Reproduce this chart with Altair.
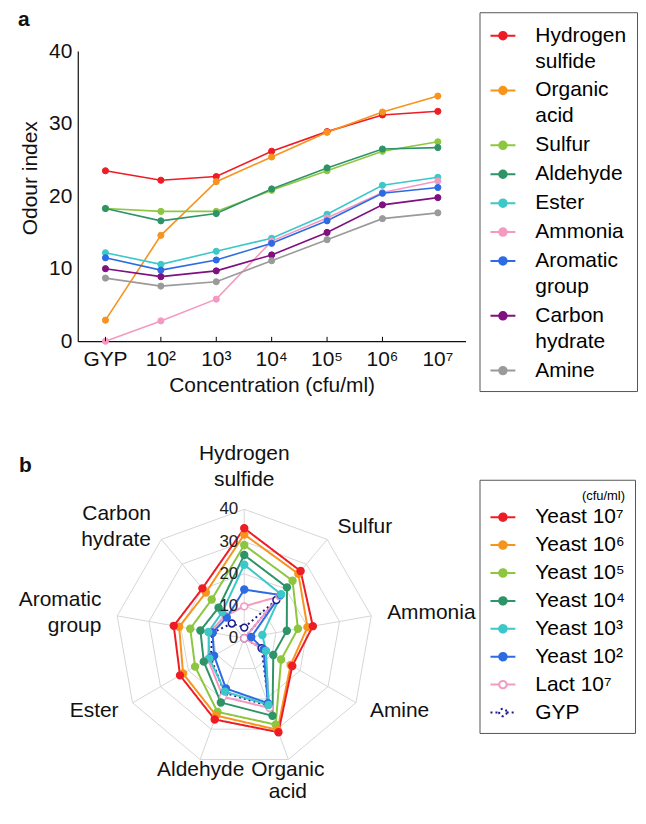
import altair as alt
import pandas as pd

FONT = "Liberation Sans"

# ---------------- Panel a data ----------------
concs = ["GYP", "10²", "10³", "10⁴", "10⁵", "10⁶", "10⁷"]
odours = ["Hydrogen sulfide", "Organic acid", "Sulfur", "Aldehyde", "Ester",
          "Ammonia", "Aromatic group", "Carbon hydrate", "Amine"]
odour_colors = ["#ee1c25", "#f7941d", "#8dc63f", "#2e9468", "#3cc8c8",
                "#f49ac2", "#2d6be4", "#800f80", "#9a9a9a"]
hydrogen_sulfide = [23.5, 22.2, 22.7, 26.2, 28.9, 31.2, 31.7]
organic_acid = [2.9, 14.6, 22.0, 25.4, 28.8, 31.6, 33.8]
sulfur = [18.3, 17.9, 17.9, 20.8, 23.5, 26.2, 27.5]
aldehyde = [18.3, 16.6, 17.6, 21.0, 23.9, 26.5, 26.7]
ester = [12.2, 10.6, 12.4, 14.2, 17.5, 21.5, 22.6]
ammonia = [0.0, 2.8, 5.8, 13.8, 17.0, 20.5, 22.1]
aromatic_group = [11.5, 9.8, 11.2, 13.5, 16.6, 20.4, 21.2]
carbon_hydrate = [10.0, 8.9, 9.7, 11.9, 15.0, 18.8, 19.8]
amine = [8.7, 7.6, 8.2, 11.1, 14.0, 16.9, 17.7]
series_a = [hydrogen_sulfide, organic_acid, sulfur, aldehyde, ester,
            ammonia, aromatic_group, carbon_hydrate, amine]

# ---------------- Panel b data ----------------
radar_cats = ["Hydrogen sulfide", "Sulfur", "Ammonia", "Amine", "Organic acid",
              "Aldehyde", "Ester", "Aromatic group", "Carbon hydrate"]
radar_series = ["Yeast 10⁷", "Yeast 10⁶", "Yeast 10⁵", "Yeast 10⁴",
                "Yeast 10³", "Yeast 10²", "Lact 10⁷", "GYP"]
radar_colors = ["#ee1c25", "#f7941d", "#8dc63f", "#2e9468", "#3cc8c8",
                "#2d6be4", "#f49ac2", "#1b1b8f"]
radar_fills = ["#ee1c25", "#f7941d", "#8dc63f", "#2e9468", "#3cc8c8",
               "#2d6be4", "#ffffff", "#ffffff"]
yeast_1e7 = [34.1, 27.2, 21.6, 17.2, 31.0, 26.8, 23.0, 22.2, 20.2]
yeast_1e6 = [32.2, 26.1, 19.9, 16.6, 30.2, 25.5, 21.9, 20.5, 18.5]
yeast_1e5 = [28.9, 23.3, 16.9, 13.2, 28.5, 24.3, 17.6, 17.0, 15.7]
yeast_1e4 = [25.8, 20.6, 13.4, 10.4, 25.6, 21.2, 14.5, 13.8, 12.4]
yeast_1e3 = [22.8, 17.8, 5.7, 7.8, 22.0, 17.6, 12.5, 11.3, 10.6]
yeast_1e2 = [15.1, 17.5, 2.2, 6.9, 21.4, 16.6, 10.8, 10.0, 8.4]
lact_1e7 = [9.9, 17.0, 0.0, 7.4, 23.0, 19.3, 13.0, 11.0, 9.0]
gyp = [3.3, 15.5, 0.0, 6.2, 22.3, 18.0, 12.0, 10.0, 6.0]
radar_values = [yeast_1e7, yeast_1e6, yeast_1e5, yeast_1e4, yeast_1e3,
                yeast_1e2, lact_1e7, gyp]
radar_rings = [10, 20, 30, 40]
radar_ticks = [0, 10, 20, 30, 40]
panel_letters = ["a", "b"]

# ---------------- layout constants ----------------
A_W, A_H = 389, 291
B_W, B_H = 300, 355
PPU = 3.235              # radar pixels per unit
B_CX, B_CY = 167, 196    # radar centre inside panel b plot area
LH = 26                  # line height of multi-line labels
SYM = "M-1,0H-0.3M0.3,0H1M0.3,0A0.3,0.3,0,1,1,-0.3,0A0.3,0.3,0,1,1,0.3,0Z"

# ---------------- Panel a ----------------
df_a = pd.DataFrame([
    {"odour": o, "conc": c, "value": v}
    for o, vals in zip(odours, series_a)
    for c, v in zip(concs, vals)
])

xsc = alt.Scale(type="band", domain=concs, paddingInner=0, paddingOuter=0)
x_axis = alt.Axis(title="Concentration (cfu/ml)", labelAngle=0, labelAlign="center",
                  bandPosition=0.5, ticks=False, labelPadding=7, titlePadding=5)
x_a = alt.X("conc:N", scale=xsc, axis=x_axis)
y_a = alt.Y("value:Q", scale=alt.Scale(domain=[0, 40], nice=False),
            axis=alt.Axis(title="Odour index", values=[0, 10, 20, 30, 40],
                          ticks=False, grid=False, labelPadding=6,
                          titlePadding=8, titleY=127))

legend_a = alt.Legend(title=None, orient="none", legendX=403, legendY=-39,
                      symbolType=SYM, symbolSize=625, symbolStrokeWidth=2,
                      labelFont=FONT, labelFontSize=21, labelOffset=19,
                      labelExpr="split(datum.label, ' ')", labelLimit=300,
                      padding=10, rowPadding=5, strokeColor="#555555")
stroke_a = alt.Stroke("odour:N", scale=alt.Scale(domain=odours, range=odour_colors),
                      legend=legend_a)
fill_a = alt.Fill("odour:N", scale=alt.Scale(domain=odours, range=odour_colors),
                  legend=legend_a)

lines_a = alt.Chart(df_a).mark_line(strokeWidth=1.6).encode(x=x_a, y=y_a, stroke=stroke_a)
pts_a = alt.Chart(df_a).mark_point(size=38, strokeWidth=1, opacity=1).encode(
    x=x_a, y=y_a, stroke=stroke_a, fill=fill_a)
# inward tick marks at the boundaries between concentration bands
tick_df = pd.DataFrame({"conc": concs[1:]})
ticks_a = alt.Chart(tick_df).mark_rule(color="black", strokeWidth=1).encode(
    x=alt.X("conc:N", scale=xsc, axis=x_axis),
    xOffset=alt.value(-A_W / len(concs) / 2),
    y=alt.datum(0), y2=alt.datum(0.6))
letter_a = alt.Chart(pd.DataFrame({"t": panel_letters[:1]})).mark_text(
    align="left", baseline="alphabetic", font=FONT, fontSize=21, fontWeight="bold",
    color="#111111").encode(x=alt.value(-60), y=alt.value(-25), text="t:N")

panel_a = alt.layer(lines_a, pts_a, ticks_a, letter_a).properties(width=A_W, height=A_H)

# ---------------- Panel b ----------------
rows_b = []
for s, vals in reversed(list(zip(radar_series, radar_values))):
    for k, (cat, v) in enumerate(zip(radar_cats, vals)):
        rows_b.append({"series": s, "k": k, "cat": cat, "value": v})
df_b = pd.DataFrame(rows_b)

xs_b = alt.Scale(domain=[-B_CX / PPU, (B_W - B_CX) / PPU], nice=False, zero=False)
ys_b = alt.Scale(domain=[-(B_H - B_CY) / PPU, B_CY / PPU], nice=False, zero=False)

ANG = "PI/2 - datum.k*2*PI/9"

legend_b = alt.Legend(title="(cfu/ml)", titleAnchor="end", titleAlign="right",
                      titleFontSize=13, titleFontWeight="normal", titleFont=FONT,
                      titlePadding=1, orient="none", legendX=403, legendY=37,
                      symbolType=SYM, symbolSize=625, symbolStrokeWidth=2,
                      labelFont=FONT, labelFontSize=21, labelOffset=19,
                      labelLimit=300, padding=10, rowPadding=4,
                      strokeColor="#555555")
stroke_b = alt.Stroke("series:N", scale=alt.Scale(domain=radar_series, range=radar_colors),
                      legend=legend_b)
fill_b = alt.Fill("series:N", scale=alt.Scale(domain=radar_series, range=radar_fills),
                  legend=legend_b)
dash_b = alt.StrokeDash("series:N",
                        scale=alt.Scale(domain=radar_series,
                                        range=[[1, 0]] * 7 + [[2, 3]]),
                        legend=legend_b)

base_b = alt.Chart(df_b).transform_calculate(
    ang=ANG).transform_calculate(
    px="datum.value*cos(datum.ang)", py="datum.value*sin(datum.ang)")
xb = alt.X("px:Q", scale=xs_b, axis=None)
yb = alt.Y("py:Q", scale=ys_b, axis=None)

# grid rings and spokes
ring_df = pd.DataFrame([{"level": r, "k": k} for r in radar_rings for k in range(len(radar_cats))])
rings = alt.Chart(ring_df).transform_calculate(ang=ANG).transform_calculate(
    px="datum.level*cos(datum.ang)", py="datum.level*sin(datum.ang)").mark_line(
    interpolate="linear-closed", color="#d6d6d6", strokeWidth=1).encode(
    x=xb, y=yb, detail="level:N", order="k:Q")
spoke_df = pd.DataFrame({"k": list(range(len(radar_cats)))})
spokes = alt.Chart(spoke_df).transform_calculate(ang=ANG).transform_calculate(
    px=f"{max(radar_rings)}*cos(datum.ang)", py=f"{max(radar_rings)}*sin(datum.ang)",
    zero="0").mark_rule(color="#d6d6d6", strokeWidth=1).encode(
    x=alt.X("zero:Q", scale=xs_b, axis=None), y=alt.Y("zero:Q", scale=ys_b, axis=None),
    x2="px:Q", y2="py:Q")

tick_lbl_df = pd.DataFrame({"level": radar_ticks})
tick_lbls = alt.Chart(tick_lbl_df).transform_calculate(zero="0").mark_text(
    align="right", baseline="middle", dx=-6, fontSize=17, font=FONT, color="#222222").encode(
    x=alt.X("zero:Q", scale=xs_b, axis=None),
    y=alt.Y("level:Q", scale=ys_b, axis=None), text="level:Q")

lines_b = base_b.mark_line(interpolate="linear-closed", strokeWidth=2).encode(
    x=xb, y=yb, stroke=stroke_b, strokeDash=dash_b, order="k:Q")
pts_b = base_b.mark_point(size=48, strokeWidth=1.5, opacity=1).encode(
    x=xb, y=yb, stroke=stroke_b, fill=fill_b)

# category labels around the radar (multi-line text: first line at anchor)
cat_df = pd.DataFrame({"k": list(range(len(radar_cats))), "cat": radar_cats})
enc_c = dict(x=alt.X("lx:Q", scale=xs_b, axis=None), y=alt.Y("ly:Q", scale=ys_b, axis=None),
             text=alt.Text("lbl:N"))


def cat_layer(flt, r, align, shift, lh=LH):
    # shift: vertical offset expression in pixels (converted to radar units)
    return alt.Chart(cat_df).transform_calculate(ang=ANG).transform_calculate(
        lbl="split(datum.cat, ' ')", c="cos(datum.ang)", s="sin(datum.ang)"
    ).transform_calculate(n="length(datum.lbl)").transform_filter(flt).transform_calculate(
        lx=f"{r}*datum.c", ly=f"{r}*datum.s + ({shift})/{PPU}"
    ).mark_text(align=align, font=FONT, fontSize=21, lineHeight=lh, color="#111111",
                baseline="middle").encode(**enc_c)


cat_top = cat_layer("abs(datum.c) < 0.35 && datum.s > 0", 45, "center",
                    f"{LH}/2 + (datum.n-1)*{LH}")
cat_bot = cat_layer("abs(datum.c) < 0.35 && datum.s < 0", 39.5, "center", "-12", lh=22)
cat_right = cat_layer("datum.c >= 0.35", 45, "left", f"(datum.n-1)*{LH}/2")
cat_left = cat_layer("datum.c <= -0.35", 45, "right", f"(datum.n-1)*{LH}/2")

letter_b = alt.Chart(pd.DataFrame({"t": panel_letters[1:]})).mark_text(
    align="left", baseline="alphabetic", font=FONT, fontSize=21, fontWeight="bold",
    color="#111111").encode(x=alt.value(-59), y=alt.value(29), text="t:N")

panel_b = alt.layer(rings, spokes, lines_b, pts_b, tick_lbls,
                    cat_top, cat_bot, cat_right, cat_left, letter_b).properties(
    width=B_W, height=B_H)

chart = alt.vconcat(panel_a, panel_b, spacing=48).resolve_scale(
    stroke="independent", fill="independent", strokeDash="independent",
    x="independent", y="independent"
).properties(padding={"left": 10, "top": 0, "right": 0, "bottom": 0}).configure(
    font=FONT, style={"guide-label": {"lineHeight": LH}}
).configure_view(strokeWidth=0).configure_axis(
    labelFont=FONT, titleFont=FONT, labelFontSize=21, titleFontSize=21,
    titleFontWeight="normal", labelColor="#111111", titleColor="#111111",
    domainColor="#111111", domainWidth=1.2
)

chart.save("out.html", embed_options={"renderer": "svg", "actions": False})
